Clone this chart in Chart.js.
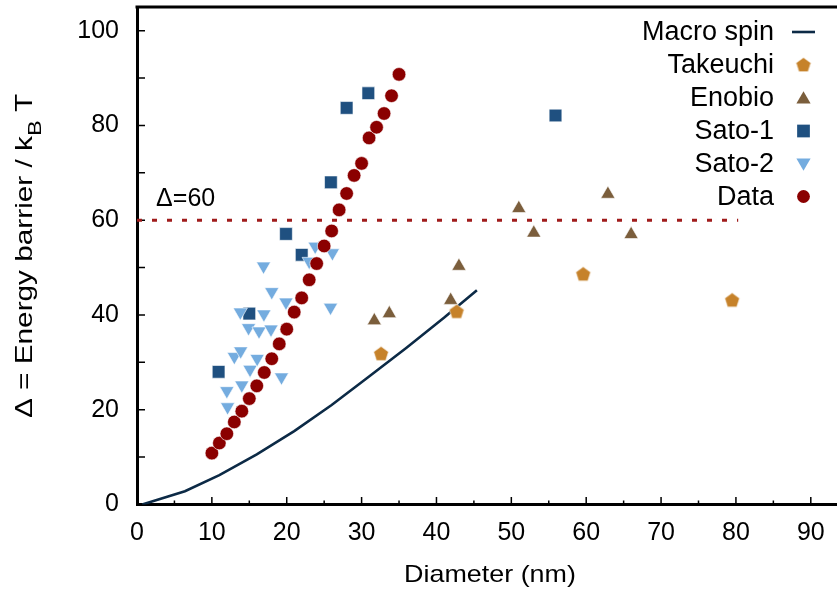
<!DOCTYPE html>
<html><head><meta charset="utf-8">
<script src="https://cdn.jsdelivr.net/npm/chart.js@4/dist/chart.umd.min.js"></script>
<style>html,body{margin:0;padding:0;background:#fff;overflow:hidden}canvas{display:block}</style>
</head><body>
<canvas id="c" width="837" height="594"></canvas>
<script>
// ---- data ----
const xTickValues = [0, 10, 20, 30, 40, 50, 60, 70, 80, 90];
const yTickValues = [0, 20, 40, 60, 80, 100];
const seriesNames = ['Macro spin', 'Takeuchi', 'Enobio', 'Sato-1', 'Sato-2', 'Data'];

const macroSpinX = [0.7, 6.4, 11, 16, 21, 26, 31, 36, 41, 45.4];
const macroSpinY = [0, 2.8, 6.2, 10.6, 15.5, 21.0, 27.0, 33.1, 39.4, 45.2];

const takeuchiX = [32.6, 42.7, 59.6, 79.5];
const takeuchiY = [31.8, 40.7, 48.6, 43.1];

const enobioX = [31.7, 33.7, 41.9, 43.0, 51.0, 53.0, 62.9, 66.0];
const enobioY = [38.8, 40.3, 43.1, 50.3, 62.5, 57.3, 65.5, 57.0];

const sato1X = [10.9, 15.0, 19.9, 22.0, 25.9, 28.0, 30.9, 55.9];
const sato1Y = [28.0, 40.3, 57.1, 52.7, 68.0, 83.7, 86.8, 82.1];

const sato2X = [12.0, 12.1, 13.0, 13.85, 13.8, 14.0, 14.9, 15.1, 16.05, 16.3, 16.9, 16.95, 17.9, 18.0, 19.3, 19.9, 23.0, 23.8, 25.85, 26.1];
const sato2Y = [24.0, 20.6, 31.2, 32.4, 40.6, 25.2, 37.3, 28.5, 30.8, 36.6, 50.3, 40.2, 37.0, 44.9, 26.9, 42.7, 51.3, 54.5, 41.6, 53.1];

const dataX = [10, 11, 12, 13, 14, 15, 16, 17, 18, 19, 20, 21, 22, 23, 24, 25, 26, 27, 28, 29, 30, 31, 32, 33, 34, 35];
const dataY = [10.85, 12.97, 14.94, 17.42, 19.7, 22.35, 25.04, 27.86, 30.76, 33.9, 37.01, 40.61, 43.6, 47.42, 50.85, 54.56, 57.73, 62.18, 65.64, 69.45, 71.99, 77.37, 79.62, 82.52, 86.27, 90.78];

const thresholdX = [0, 80.3];
const thresholdY = [60, 60];
const thresholdLabel = 'Δ=60';

// ---- styles ----
const FONT = '"Liberation Sans", Arial, sans-serif';
const colMacro = '#0c2a46';
const colTakeuchi = '#c6822a';
const colEnobio = '#7b5e3c';
const colSato1 = '#1f5080';
const colSato2 = '#74acdf';
const colData = '#8b0000';
const colThresh = '#a01c1c';
const edge = 'rgba(255,255,255,0.75)';

function pts(xs, ys) { return xs.map((x, i) => ({ x: x, y: ys[i] })); }

function makePentagon(color, R) {
  const size = Math.ceil(2 * R + 4);
  const c = document.createElement('canvas');
  c.width = size; c.height = size;
  const g = c.getContext('2d');
  const cx = size / 2, cy = size / 2 + R * 0.05;
  g.beginPath();
  for (let i = 0; i < 5; i++) {
    const a = -Math.PI / 2 + i * 2 * Math.PI / 5;
    g.lineTo(cx + R * Math.cos(a), cy + R * Math.sin(a));
  }
  g.closePath();
  g.fillStyle = color; g.fill();
  g.strokeStyle = edge; g.lineWidth = 0.8; g.stroke();
  return c;
}
const pentagon = makePentagon(colTakeuchi, 7.8);

const datasets = [
  { label: seriesNames[5], data: pts(dataX, dataY), pointStyle: 'circle', pointRadius: 6.8,
    backgroundColor: colData, borderColor: edge, borderWidth: 0.8, showLine: false, order: 0 },
  { label: seriesNames[4], data: pts(sato2X, sato2Y), pointStyle: 'triangle', rotation: 180, pointRadius: 8.2,
    backgroundColor: colSato2, borderColor: edge, borderWidth: 0.8, showLine: false, order: 1 },
  { label: seriesNames[3], data: pts(sato1X, sato1Y), pointStyle: 'rect', pointRadius: 9,
    backgroundColor: colSato1, borderColor: edge, borderWidth: 0.8, showLine: false, order: 2 },
  { label: seriesNames[2], data: pts(enobioX, enobioY), pointStyle: 'triangle', pointRadius: 8.2,
    backgroundColor: colEnobio, borderColor: edge, borderWidth: 0.8, showLine: false, order: 3 },
  { label: seriesNames[1], data: pts(takeuchiX, takeuchiY), pointStyle: pentagon, pointRadius: 8,
    backgroundColor: colTakeuchi, borderColor: edge, borderWidth: 0, showLine: false, order: 4 },
  { label: seriesNames[0], data: pts(macroSpinX, macroSpinY), showLine: true, pointRadius: 0,
    borderColor: colMacro, borderWidth: 2.6, tension: 0, fill: false, order: 5 },
  { label: 'threshold', data: pts(thresholdX, thresholdY), showLine: true, pointRadius: 0,
    borderColor: colThresh, borderWidth: 3, borderDash: [5, 10], borderCapStyle: 'butt', fill: false, order: 6 }
];

const decor = {
  id: 'decor',
  beforeDatasetsDraw(chart) {
    const { ctx, chartArea: a, scales: { x, y } } = chart;
    ctx.save();
    ctx.strokeStyle = '#000';
    ctx.lineWidth = 1.5;
    ctx.beginPath();
    for (let v = 10; v <= 100; v += 10) {
      const py = y.getPixelForValue(v);
      ctx.moveTo(a.left, py); ctx.lineTo(a.left + 8, py);
    }
    for (let v = 5; v <= 90; v += 5) {
      const px = x.getPixelForValue(v);
      const len = (v % 10 === 0) ? 7.5 : 4;
      ctx.moveTo(px, a.bottom); ctx.lineTo(px, a.bottom - len);
    }
    ctx.stroke();
    // top frame
    ctx.lineWidth = 3;
    ctx.beginPath();
    ctx.moveTo(a.left - 1.5, a.top); ctx.lineTo(a.right, a.top);
    ctx.stroke();
    ctx.restore();
  },
  afterDraw(chart) {
    const { ctx, scales: { x, y } } = chart;
    ctx.save();
    ctx.fillStyle = '#000';
    // threshold label
    ctx.font = '25px ' + FONT;
    ctx.textAlign = 'left'; ctx.textBaseline = 'alphabetic';
    ctx.fillText(thresholdLabel, x.getPixelForValue(2.55), y.getPixelForValue(63.1));

    // x title (slightly stretched)
    ctx.save();
    ctx.translate(490, 582);
    ctx.scale(1.12, 1);
    ctx.font = '24px ' + FONT;
    ctx.textAlign = 'center';
    ctx.fillText('Diameter (nm)', 0, 0);
    ctx.restore();

    // y title with subscript
    ctx.save();
    ctx.translate(32, 256);
    ctx.rotate(-Math.PI / 2);
    ctx.scale(1.24, 1);
    ctx.textAlign = 'left';
    const fMain = '24px ' + FONT, fSub = '19px ' + FONT;
    const p1 = 'Δ = Energy barrier / k', p2 = 'B', p3 = ' T';
    ctx.font = fMain; const w1 = ctx.measureText(p1).width, w3 = ctx.measureText(p3).width;
    ctx.font = fSub; const w2 = ctx.measureText(p2).width;
    let sx = -(w1 + w2 + w3) / 2;
    ctx.font = fMain; ctx.fillText(p1, sx, 0); sx += w1;
    ctx.font = fSub; ctx.fillText(p2, sx, 9); sx += w2;
    ctx.font = fMain; ctx.fillText(p3, sx, 0);
    ctx.restore();

    // legend
    const rows = [32, 65, 98, 131, 164, 196.5];
    const tx = 774, sxc = 803.5;
    ctx.font = '27px ' + FONT;
    ctx.textAlign = 'right'; ctx.textBaseline = 'middle';
    seriesNames.forEach((n, i) => ctx.fillText(n, tx, rows[i] + 1));
    // symbols
    ctx.strokeStyle = colMacro; ctx.lineWidth = 2.6;
    ctx.beginPath(); ctx.moveTo(792, rows[0]); ctx.lineTo(815, rows[0]); ctx.stroke();
    ctx.drawImage(pentagon, sxc - pentagon.width / 2, rows[1] - pentagon.height / 2);
    function tri(cx, cy, r, down, col) {
      ctx.fillStyle = col; ctx.beginPath();
      let rad = down ? Math.PI : 0;
      for (let k = 0; k < 3; k++) {
        ctx.lineTo(cx + Math.sin(rad) * r, cy - Math.cos(rad) * r);
        rad += 2 * Math.PI / 3;
      }
      ctx.closePath(); ctx.fill();
    }
    tri(sxc, rows[2] + 1.5, 8.2, false, colEnobio);
    ctx.fillStyle = colSato1;
    const s = 9 * Math.SQRT1_2;
    ctx.fillRect(sxc - s, rows[3] - s, 2 * s, 2 * s);
    tri(sxc, rows[4] - 1.5, 8.2, true, colSato2);
    ctx.fillStyle = colData; ctx.beginPath(); ctx.arc(sxc, rows[5], 6.4, 0, 2 * Math.PI); ctx.fill();
    ctx.restore();
  }
};

function zeroPad(s) { s.paddingTop = 0; s.paddingBottom = 0; s.paddingLeft = 0; s.paddingRight = 0; }

new Chart(document.getElementById('c'), {
  type: 'scatter',
  data: { datasets: datasets },
  options: {
    responsive: false, animation: false, devicePixelRatio: 1,
    layout: { autoPadding: false, padding: { top: 7, right: 0, left: 0, bottom: 0 } },
    plugins: { legend: { display: false }, tooltip: { enabled: false } },
    elements: { line: { tension: 0 } },
    scales: {
      x: {
        type: 'linear', position: 'bottom', min: 0, max: 93.5,
        afterFit(s) { s.height = 89.5; zeroPad(s); },
        afterBuildTicks(s) { s.ticks = xTickValues.map(v => ({ value: v })); },
        grid: { display: false, drawTicks: false },
        border: { display: true, color: '#000', width: 3 },
        ticks: { font: { family: FONT, size: 25 }, color: '#000', padding: 14, maxRotation: 0, autoSkip: false }
      },
      y: {
        type: 'linear', min: 0, max: 105,
        afterFit(s) { s.width = 137; zeroPad(s); },
        afterBuildTicks(s) { s.ticks = yTickValues.map(v => ({ value: v })); },
        grid: { display: false, drawTicks: false },
        border: { display: true, color: '#000', width: 3 },
        ticks: { font: { family: FONT, size: 25 }, color: '#000', padding: 18, autoSkip: false }
      }
    }
  },
  plugins: [decor]
});
</script>
</body></html>
